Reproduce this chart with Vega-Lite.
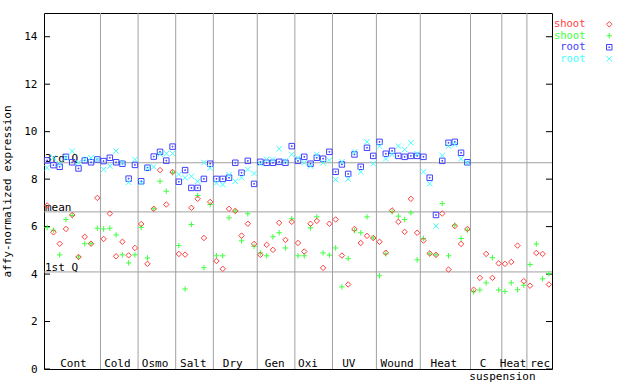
{
  "$schema": "https://vega.github.io/schema/vega-lite/v6.json",
  "width": 508,
  "height": 356,
  "autosize": "none",
  "padding": {"left": 44, "top": 13, "right": 88, "bottom": 15},
  "background": "white",
  "config": {
    "view": {"stroke": "black", "strokeWidth": 1},
    "font": "DejaVu Sans Mono",
    "axis": {
      "labelFont": "DejaVu Sans Mono", "labelFontSize": 11, "labelColor": "black",
      "titleFont": "DejaVu Sans Mono", "titleFontSize": 11, "titleFontWeight": "normal", "titleColor": "black",
      "domainColor": "black", "tickColor": "black", "grid": false
    },
    "legend": {"labelFont": "DejaVu Sans Mono", "labelFontSize": 10.5}
  },
  "resolve": {"scale": {"x": "shared", "y": "shared"}, "axis": {"x": "independent", "y": "independent"}},
  "datasets": {
    "cats": [
      {"b": 8.5}, {"b": 14.5}, {"b": 20.5}, {"b": 26.5}, {"b": 33.5}, {"b": 39.5},
      {"b": 45.5}, {"b": 52.5}, {"b": 59.5}, {"b": 67.5}, {"b": 72.5}, {"b": 76.5}
    ],
    "labs": [
      {"c": "Cont", "m": 4.2}, {"c": "Cold", "m": 11.2}, {"c": "Osmo", "m": 17.2}, {"c": "Salt", "m": 23.3},
      {"c": "Dry", "m": 29.6}, {"c": "Gen", "m": 36.3}, {"c": "Oxi", "m": 41.6}, {"c": "UV", "m": 48.1},
      {"c": "Wound", "m": 55.8}, {"c": "Heat", "m": 63.25}, {"c": "C", "m": 69.5}, {"c": "Heat", "m": 74.3},
      {"c": "rec", "m": 78.6}
    ],
    "labs2": [
      {"c": "suspension", "m": 72.6}
    ],
    "yt": [
      {"t": 0}, {"t": 2}, {"t": 4}, {"t": 6}, {"t": 8}, {"t": 10}, {"t": 12}, {"t": 14}
    ],
    "quart": [
      {"q": "3rd Q", "v": 8.69},
      {"q": "mean", "v": 6.62},
      {"q": "1st Q", "v": 4.09}
    ],
    "pts": [
      {"s":0,"shoot_r":6.89,"shoot_g":5.96,"root_b":8.79,"root_c":8.48},
      {"s":1,"shoot_r":5.76,"shoot_g":5.85,"root_b":8.59,"root_c":8.9},
      {"s":2,"shoot_r":5.28,"shoot_g":4.81,"root_b":8.52,"root_c":8.65},
      {"s":3,"shoot_r":5.9,"shoot_g":6.3,"root_b":8.94,"root_c":8.9},
      {"s":4,"shoot_r":6.49,"shoot_g":6.47,"root_b":8.71,"root_c":9.18},
      {"s":5,"shoot_r":4.72,"shoot_g":4.72,"root_b":8.45,"root_c":8.69},
      {"s":6,"shoot_r":5.57,"shoot_g":5.28,"root_b":8.79,"root_c":8.83},
      {"s":7,"shoot_r":5.28,"shoot_g":5.28,"root_b":8.71,"root_c":8.9},
      {"s":8,"shoot_r":7.21,"shoot_g":5.93,"root_b":8.83,"root_c":8.83},
      {"s":9,"shoot_r":5.48,"shoot_g":5.9,"root_b":8.76,"root_c":8.41},
      {"s":10,"shoot_r":6.55,"shoot_g":5.93,"root_b":8.9,"root_c":8.55},
      {"s":11,"shoot_r":4.75,"shoot_g":5.65,"root_b":8.71,"root_c":9.18},
      {"s":12,"shoot_r":5.36,"shoot_g":4.81,"root_b":8.65,"root_c":8.69},
      {"s":13,"shoot_r":4.79,"shoot_g":4.47,"root_b":8.02,"root_c":7.87},
      {"s":14,"shoot_r":5.1,"shoot_g":4.81,"root_b":8.6,"root_c":8.83},
      {"s":15,"shoot_r":6.11,"shoot_g":5.97,"root_b":7.91,"root_c":7.85},
      {"s":16,"shoot_r":4.43,"shoot_g":4.68,"root_b":8.48,"root_c":8.45},
      {"s":17,"shoot_r":6.75,"shoot_g":6.75,"root_b":8.95,"root_c":8.52},
      {"s":18,"shoot_r":8.38,"shoot_g":7.91,"root_b":9.15,"root_c":9.05},
      {"s":19,"shoot_r":6.93,"shoot_g":7.49,"root_b":8.78,"root_c":9.08},
      {"s":20,"shoot_r":8.3,"shoot_g":8.27,"root_b":9.37,"root_c":9.08},
      {"s":21,"shoot_r":4.85,"shoot_g":5.2,"root_b":7.89,"root_c":8.2},
      {"s":22,"shoot_r":4.82,"shoot_g":3.37,"root_b":8.38,"root_c":8.06},
      {"s":23,"shoot_r":6.79,"shoot_g":6.09,"root_b":7.63,"root_c":8.12},
      {"s":24,"shoot_r":7.17,"shoot_g":7.31,"root_b":7.63,"root_c":7.91},
      {"s":25,"shoot_r":5.52,"shoot_g":4.27,"root_b":8.01,"root_c":8.7},
      {"s":26,"shoot_r":7.04,"shoot_g":6.93,"root_b":8.65,"root_c":8.47},
      {"s":27,"shoot_r":4.55,"shoot_g":4.77,"root_b":8.01,"root_c":7.84},
      {"s":28,"shoot_r":4.22,"shoot_g":4.77,"root_b":8.01,"root_c":7.77},
      {"s":29,"shoot_r":6.75,"shoot_g":6.37,"root_b":8.06,"root_c":8.19},
      {"s":30,"shoot_r":6.66,"shoot_g":6.66,"root_b":8.69,"root_c":7.91},
      {"s":31,"shoot_r":5.62,"shoot_g":5.4,"root_b":8.27,"root_c":8.06},
      {"s":32,"shoot_r":6.12,"shoot_g":6.54,"root_b":8.77,"root_c":8.41},
      {"s":33,"shoot_r":5.27,"shoot_g":5.17,"root_b":7.8,"root_c":8.24},
      {"s":34,"shoot_r":4.81,"shoot_g":4.89,"root_b":8.73,"root_c":8.65},
      {"s":35,"shoot_r":5.23,"shoot_g":4.77,"root_b":8.69,"root_c":8.83},
      {"s":36,"shoot_r":5.02,"shoot_g":5.57,"root_b":8.69,"root_c":8.83},
      {"s":37,"shoot_r":6.16,"shoot_g":5.74,"root_b":8.73,"root_c":9.28},
      {"s":38,"shoot_r":5.44,"shoot_g":5.1,"root_b":8.69,"root_c":8.77},
      {"s":39,"shoot_r":6.2,"shoot_g":6.33,"root_b":9.39,"root_c":9.04},
      {"s":40,"shoot_r":5.31,"shoot_g":4.77,"root_b":8.77,"root_c":8.9},
      {"s":41,"shoot_r":4.95,"shoot_g":4.77,"root_b":8.94,"root_c":8.69},
      {"s":42,"shoot_r":6.12,"shoot_g":5.95,"root_b":8.65,"root_c":8.55},
      {"s":43,"shoot_r":6.24,"shoot_g":6.41,"root_b":8.9,"root_c":9.04},
      {"s":44,"shoot_r":4.26,"shoot_g":4.89,"root_b":8.86,"root_c":8.69},
      {"s":45,"shoot_r":6.12,"shoot_g":4.8,"root_b":9.15,"root_c":8.8},
      {"s":46,"shoot_r":6.3,"shoot_g":5.1,"root_b":8.31,"root_c":7.98},
      {"s":47,"shoot_r":4.78,"shoot_g":3.46,"root_b":8.62,"root_c":8.73},
      {"s":48,"shoot_r":3.56,"shoot_g":4.65,"root_b":8.22,"root_c":8.01},
      {"s":49,"shoot_r":5.9,"shoot_g":5.83,"root_b":9.04,"root_c":9.15},
      {"s":50,"shoot_r":5.31,"shoot_g":5.74,"root_b":8.52,"root_c":8.31},
      {"s":51,"shoot_r":5.61,"shoot_g":6.41,"root_b":9.32,"root_c":9.57},
      {"s":52,"shoot_r":5.52,"shoot_g":5.52,"root_b":8.98,"root_c":8.65},
      {"s":53,"shoot_r":5.36,"shoot_g":3.93,"root_b":9.57,"root_c":9.39},
      {"s":54,"shoot_r":4.9,"shoot_g":4.85,"root_b":9.07,"root_c":8.86},
      {"s":55,"shoot_r":6.68,"shoot_g":6.62,"root_b":9.19,"root_c":9.04},
      {"s":56,"shoot_r":6.2,"shoot_g":6.44,"root_b":8.98,"root_c":9.39},
      {"s":57,"shoot_r":5.78,"shoot_g":6.3,"root_b":8.94,"root_c":9.25},
      {"s":58,"shoot_r":7.17,"shoot_g":6.58,"root_b":8.98,"root_c":9.53},
      {"s":59,"shoot_r":5.74,"shoot_g":4.6,"root_b":8.98,"root_c":9.07},
      {"s":60,"shoot_r":5.41,"shoot_g":5.5,"root_b":8.94,"root_c":8.31},
      {"s":61,"shoot_r":4.87,"shoot_g":4.85,"root_b":8.06,"root_c":7.81},
      {"s":62,"shoot_r":4.81,"shoot_g":4.81,"root_b":6.49,"root_c":6.02},
      {"s":63,"shoot_r":6.55,"shoot_g":6.97,"root_b":8.77,"root_c":9.0},
      {"s":64,"shoot_r":4.19,"shoot_g":4.77,"root_b":9.53,"root_c":9.39},
      {"s":65,"shoot_r":6.02,"shoot_g":6.06,"root_b":9.57,"root_c":9.46},
      {"s":66,"shoot_r":5.27,"shoot_g":5.5,"root_b":9.11,"root_c":8.86},
      {"s":67,"shoot_r":5.9,"shoot_g":5.85,"root_b":8.71,"root_c":8.69},
      {"s":68,"shoot_r":3.34,"shoot_g":3.25},
      {"s":69,"shoot_r":3.84,"shoot_g":3.33},
      {"s":70,"shoot_r":4.85,"shoot_g":3.63},
      {"s":71,"shoot_r":3.84,"shoot_g":4.69},
      {"s":72,"shoot_r":4.45,"shoot_g":3.33},
      {"s":73,"shoot_r":4.43,"shoot_g":3.27},
      {"s":74,"shoot_r":4.51,"shoot_g":3.63},
      {"s":75,"shoot_r":5.2,"shoot_g":3.34},
      {"s":76,"shoot_r":3.7,"shoot_g":3.53},
      {"s":77,"shoot_r":3.51,"shoot_g":4.4},
      {"s":78,"shoot_r":4.89,"shoot_g":5.27},
      {"s":79,"shoot_r":4.85,"shoot_g":3.8},
      {"s":80,"shoot_r":3.56,"shoot_g":4.02}
    ]
  },
  "layer": [
    {
      "data": {"name": "cats"},
      "mark": {"type": "rule", "color": "#a0a0a0", "strokeWidth": 1},
      "encoding": {
        "x": {"field": "b", "type": "quantitative", "scale": {"domain": [-0.5, 80.5], "nice": false, "zero": false}, "axis": null}
      }
    },
    {
      "data": {"name": "quart"},
      "mark": {"type": "rule", "color": "#a0a0a0", "strokeWidth": 1},
      "encoding": {
        "y": {"field": "v", "type": "quantitative", "scale": {"domain": [0, 15], "nice": false}, "axis": null}
      }
    },
    {
      "data": {"name": "yt"},
      "mark": {"type": "rule", "color": "black", "strokeWidth": 1},
      "encoding": {
        "x": {"datum": -0.5, "type": "quantitative", "scale": {"domain": [-0.5, 80.5], "nice": false, "zero": false}, "axis": null},
        "x2": {"datum": 0.46},
        "y": {"field": "t", "type": "quantitative", "scale": {"domain": [0, 15], "nice": false}, "axis": null}
      }
    },
    {
      "data": {"name": "yt"},
      "mark": {"type": "rule", "color": "black", "strokeWidth": 1},
      "encoding": {
        "x": {"datum": 79.54, "type": "quantitative", "scale": {"domain": [-0.5, 80.5], "nice": false, "zero": false}, "axis": null},
        "x2": {"datum": 80.5},
        "y": {"field": "t", "type": "quantitative", "scale": {"domain": [0, 15], "nice": false}, "axis": null}
      }
    },
    {
      "data": {"name": "quart"},
      "mark": {"type": "text", "align": "left", "baseline": "alphabetic", "dx": 1, "dy": -1, "fontSize": 11, "font": "DejaVu Sans Mono", "color": "black"},
      "encoding": {
        "x": {"datum": -0.5, "type": "quantitative", "scale": {"domain": [-0.5, 80.5], "nice": false, "zero": false}, "axis": null},
        "y": {"field": "v", "type": "quantitative", "scale": {"domain": [0, 15], "nice": false}, "axis": null},
        "text": {"field": "q"}
      }
    },
    {
      "data": {"name": "labs"},
      "mark": {"type": "text", "align": "center", "baseline": "alphabetic", "dy": -2, "fontSize": 11, "font": "DejaVu Sans Mono", "color": "black"},
      "encoding": {
        "x": {"field": "m", "type": "quantitative", "scale": {"domain": [-0.5, 80.5], "nice": false, "zero": false}, "axis": null},
        "y": {"datum": 0, "type": "quantitative", "scale": {"domain": [0, 15], "nice": false}, "axis": null},
        "text": {"field": "c"}
      }
    },
    {
      "data": {"name": "labs2"},
      "mark": {"type": "text", "align": "center", "baseline": "alphabetic", "dy": 10.5, "fontSize": 11, "font": "DejaVu Sans Mono", "color": "black"},
      "encoding": {
        "x": {"field": "m", "type": "quantitative", "scale": {"domain": [-0.5, 80.5], "nice": false, "zero": false}, "axis": null},
        "y": {"datum": 0, "type": "quantitative", "scale": {"domain": [0, 15], "nice": false}, "axis": null},
        "text": {"field": "c"}
      }
    },
    {
      "data": {"name": "pts"},
      "transform": [
        {"fold": ["root_b", "root_c", "shoot_g", "shoot_r"], "as": ["series", "value"]},
        {"filter": "isValid(datum.value)"}
      ],
      "mark": {"type": "point", "filled": false, "strokeWidth": 1, "size": 30, "opacity": 1},
      "encoding": {
        "x": {"field": "s", "type": "quantitative", "scale": {"domain": [-0.5, 80.5], "nice": false, "zero": false}, "axis": null},
        "y": {"field": "value", "type": "quantitative", "scale": {"domain": [0, 15], "nice": false},
          "axis": {"orient": "left", "values": [0, 2, 4, 6, 8, 10, 12, 14], "ticks": false, "tickSize": 0, "labelPadding": 7, "domain": false,
            "title": "affy-normalized expression", "titleX": -37, "titleY": 178, "titleAngle": -90,
            "titleBaseline": "middle", "titleAlign": "center"}},
        "color": {"field": "series", "type": "nominal",
          "scale": {"domain": ["shoot_r", "shoot_g", "root_b", "root_c"], "range": ["#ff4040", "#40ff40", "#4040ff", "#40ffff"]},
          "legend": {"orient": "none", "legendX": 560, "legendY": 6, "title": null, "padding": 0, "rowPadding": 0.5,
            "labelExpr": "datum.value == 'shoot_r' || datum.value == 'shoot_g' ? 'shoot' : 'root'",
            "labelAlign": "right", "labelOffset": -29, "labelColor": {"expr": "scale('color', datum.value)"},
            "symbolSize": 30, "symbolStrokeWidth": 1}},
        "shape": {"field": "series", "type": "nominal",
          "scale": {"domain": ["shoot_r", "shoot_g", "root_b", "root_c"],
            "range": ["M0,-1L1,0L0,1L-1,0Z", "M-1,0H1M0,-1V1", "M-1,-1H1V1H-1ZM-0.15,-0.15H0.15V0.15H-0.15Z", "M-1,-1L1,1M1,-1L-1,1"]},
          "legend": {"orient": "none", "legendX": 560, "legendY": 6, "title": null, "padding": 0, "rowPadding": 0.5,
            "labelExpr": "datum.value == 'shoot_r' || datum.value == 'shoot_g' ? 'shoot' : 'root'",
            "labelAlign": "right", "labelOffset": -29, "labelColor": {"expr": "scale('color', datum.value)"},
            "symbolSize": 30, "symbolStrokeWidth": 1}}
      }
    }
  ]
}
